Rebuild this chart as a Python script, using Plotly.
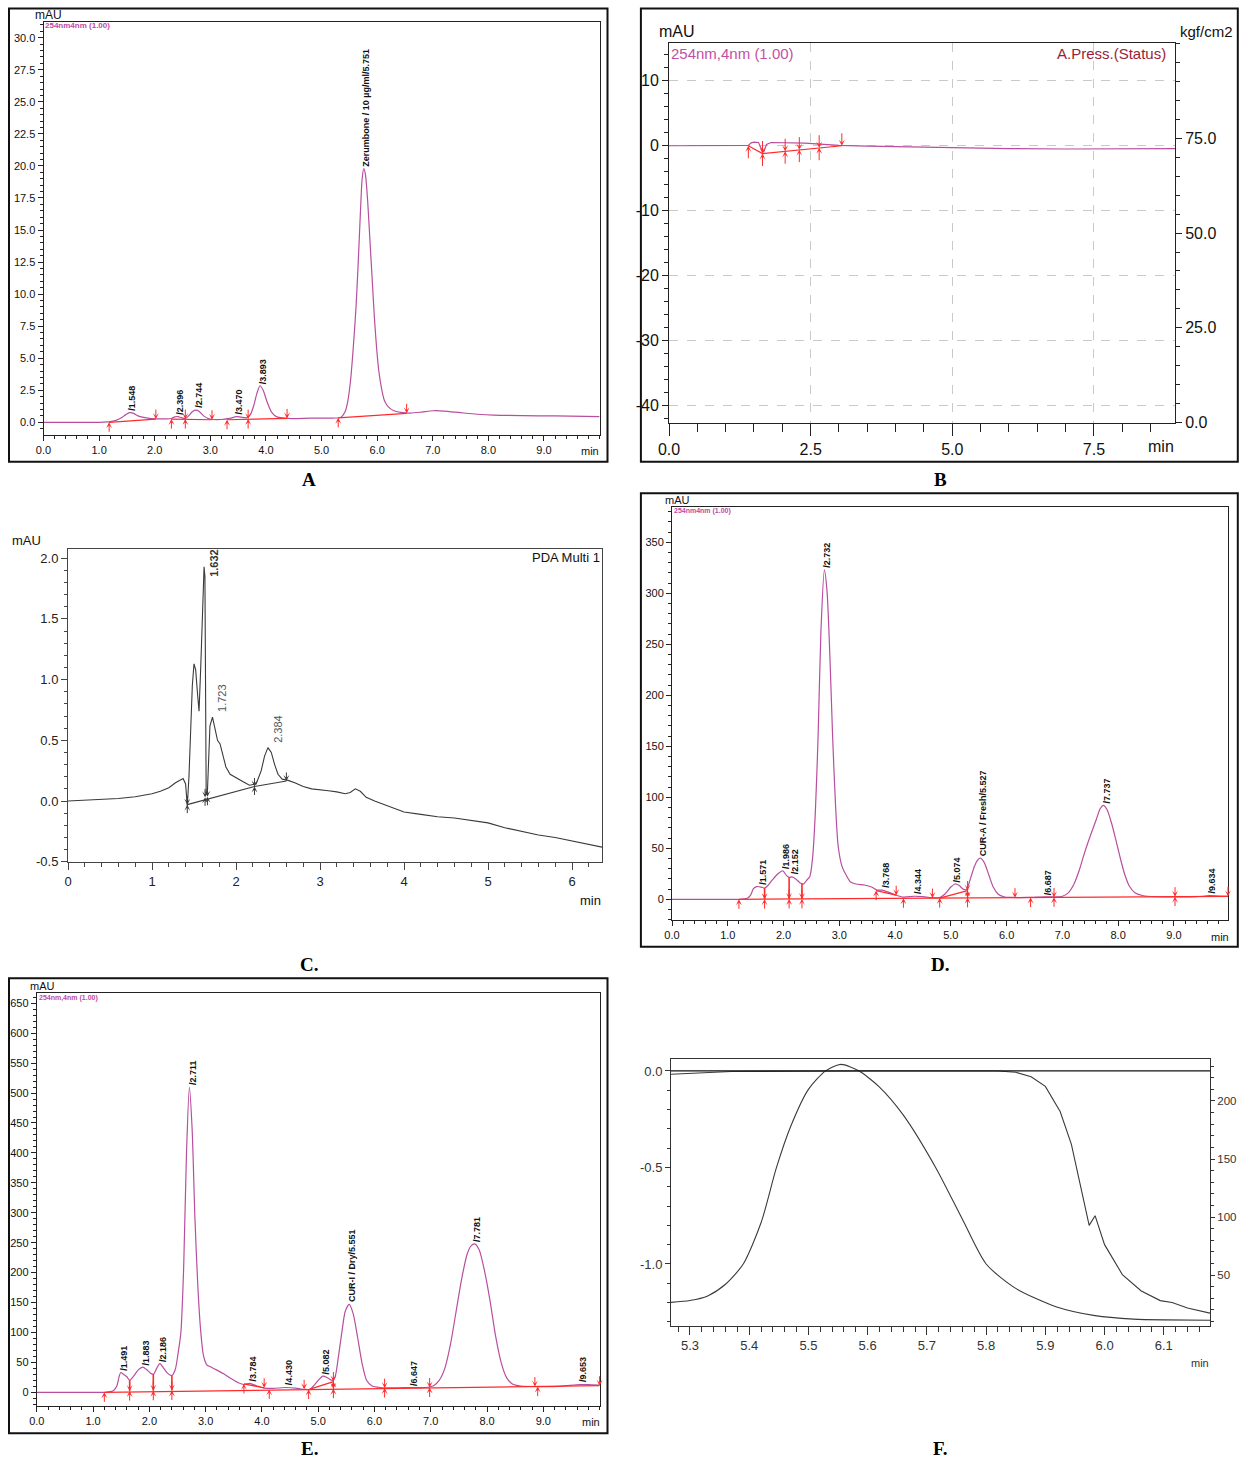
import plotly.graph_objects as go

W, H = 1239, 1459
SANS = "'Liberation Sans', Arial, sans-serif"
NARROW = "'Liberation Sans Narrow', 'Arial Narrow', 'Liberation Sans', Arial, sans-serif"
SERIF = "'Liberation Serif', 'Times New Roman', serif"
MAG = '#B84E9E'
RED = '#FF2A2A'
INK = '#222222'
GRAYLINE = '#3a3a3a'

# ---------------- Panel A : Zerumbone standard ----------------
A_time = [0.0, 0.6, 1.0, 1.2, 1.3, 1.4, 1.48, 1.55, 1.62, 1.7, 1.8, 1.9, 2.0, 2.2, 2.3, 2.36, 2.42, 2.48,
          2.55, 2.62, 2.68, 2.745, 2.8, 2.88, 2.96, 3.05, 3.2, 3.35, 3.47, 3.55, 3.65, 3.72, 3.78, 3.84,
          3.893, 3.95, 4.02, 4.1, 4.2, 4.4, 4.8, 5.2, 5.35, 5.42, 5.47, 5.52, 5.57, 5.62, 5.66, 5.70, 5.73,
          5.76, 5.79, 5.83, 5.87, 5.91, 5.95, 5.99, 6.03, 6.08, 6.13, 6.2, 6.3, 6.45, 6.6, 6.8, 7.0, 7.2,
          7.5, 7.8, 8.1, 8.6, 9.2, 10.0]
A_mau = [0.0, 0.0, 0.0, 0.05, 0.15, 0.35, 0.6, 0.75, 0.7, 0.5, 0.38, 0.3, 0.27, 0.27, 0.3, 0.42, 0.45, 0.36,
         0.3, 0.55, 0.85, 0.95, 0.85, 0.5, 0.3, 0.22, 0.22, 0.3, 0.45, 0.4, 0.35, 0.6, 1.3, 2.3,
         2.85, 2.5, 1.6, 0.8, 0.42, 0.3, 0.32, 0.33, 0.4, 0.8, 1.6, 3.2, 5.8, 9.0, 12.5, 16.5, 19.0,
         19.8, 19.3, 17.2, 14.2, 11.2, 8.2, 5.8, 4.0, 2.6, 1.7, 1.2, 0.9, 0.75, 0.72, 0.8, 0.9, 0.88,
         0.75, 0.63, 0.56, 0.52, 0.5, 0.45]
A_base_time = [1.18, 2.02, None, 2.30, 2.55, 3.03, None, 3.30, 3.68, 4.38, None, 5.30, 6.53]
A_base_mau = [0.0, 0.25, None, 0.25, 0.25, 0.20, None, 0.20, 0.25, 0.30, None, 0.35, 0.70]
A_up_time = [1.18, 2.30, 3.30, 5.30]
A_up_mau = [0.0, 0.25, 0.20, 0.35]
A_down_time = [2.02, 3.03, 4.38, 6.53]
A_down_mau = [0.25, 0.20, 0.30, 0.70]
A_cross_time = [2.55, 3.68]
A_cross_mau = [0.25, 0.25]
A_peak_time = [1.548, 2.396, 2.744, 3.470, 3.893, 5.751]
A_peak_mau = [0.75, 0.45, 0.95, 0.45, 2.85, 19.8]
A_peak_text = ['/1.548', '/2.396', '/2.744', '/3.470', '/3.893', 'Zerumbone / 10 µg/ml/5.751']
A_xtick = [0, 1, 2, 3, 4, 5, 6, 7, 8, 9]
A_ytick = [0.0, 2.5, 5.0, 7.5, 10.0, 12.5, 15.0, 17.5, 20.0, 22.5, 25.0, 27.5, 30.0]

# ---------------- Panel B : blank ----------------
B_time = [0.0, 0.5, 1.0, 1.4, 1.45, 1.5, 1.58, 1.62, 1.67, 1.72, 1.8, 1.9, 2.0, 2.2, 2.4, 2.6, 2.8,
          3.0, 3.5, 4.0, 5.0, 6.0, 7.0, 8.0, 8.93]
B_mau = [0.0, 0.0, 0.02, 0.05, 0.45, 0.55, 0.5, -0.3, -1.0, 0.2, 0.5, 0.5, 0.45, 0.45, 0.4, 0.3, 0.2,
         0.05, -0.05, -0.15, -0.35, -0.45, -0.5, -0.5, -0.45]
B_base_time = [1.4, 1.65, 3.05]
B_base_mau = [0.0, -1.2, 0.0]
B_up_time = [1.4]
B_up_mau = [0.0]
B_down_time = [3.05]
B_down_mau = [0.0]
B_cross_time = [1.65, 2.05, 2.3, 2.65]
B_cross_mau = [-1.2, -0.85, -0.6, -0.3]
B_xtick = [0.0, 2.5, 5.0, 7.5]
B_ytick = [-40, -30, -20, -10, 0, 10]
B_rtick = [0.0, 25.0, 50.0, 75.0]

# ---------------- Panel C : PDA Multi 1 ----------------
C_time = [0, 0.2, 0.4, 0.6, 0.8, 1.0, 1.1, 1.2, 1.28, 1.33, 1.37, 1.40, 1.42, 1.44, 1.46, 1.48, 1.50,
          1.52, 1.54, 1.56, 1.58, 1.60, 1.62, 1.63, 1.645, 1.66, 1.675, 1.69, 1.72, 1.75, 1.78, 1.81,
          1.84, 1.88, 1.93, 2.0, 2.08, 2.16, 2.24, 2.3, 2.34, 2.38, 2.42, 2.46, 2.5, 2.55, 2.62, 2.7,
          2.8, 2.9, 3.0, 3.1, 3.2, 3.3, 3.36, 3.42, 3.48, 3.55, 3.65, 3.8, 4.0, 4.2, 4.4, 4.6, 4.8, 5.0,
          5.2, 5.4, 5.6, 5.8, 6.0, 6.2, 6.36]
C_au = [0.0, 0.005, 0.01, 0.02, 0.035, 0.06, 0.08, 0.11, 0.15, 0.17, 0.185, 0.14, -0.04, 0.2, 0.6, 0.95,
        1.13, 1.08, 0.9, 0.74, 1.1, 1.6, 1.93, 1.85, 0.05, 0.08, 0.45, 0.62, 0.69, 0.58, 0.5, 0.47,
        0.38, 0.28, 0.22, 0.19, 0.16, 0.13, 0.14, 0.25, 0.37, 0.44, 0.4, 0.3, 0.22, 0.18, 0.17, 0.15,
        0.12, 0.1, 0.095, 0.085, 0.075, 0.06, 0.07, 0.1, 0.08, 0.03, 0.0, -0.04, -0.09, -0.11, -0.13,
        -0.14, -0.16, -0.18, -0.22, -0.25, -0.28, -0.3, -0.33, -0.36, -0.38]
C_base_time = [1.42, 2.22, 2.6]
C_base_au = [-0.03, 0.12, 0.165]
C_cross_time = [1.42, 1.632, 1.66, 2.22]
C_cross_au = [-0.03, 0.03, 0.035, 0.12]
C_down_time = [2.6]
C_down_au = [0.165]
C_peak_time = [1.632, 1.723, 2.384]
C_peak_au = [1.93, 0.69, 0.44]
C_peak_text = ['1.632', '1.723', '2.384']
C_xtick = [0, 1, 2, 3, 4, 5, 6]
C_ytick = [-0.5, 0.0, 0.5, 1.0, 1.5, 2.0]

# ---------------- Panel D : fresh extract ----------------
D_time = [0.0, 0.8, 1.2, 1.35, 1.41, 1.46, 1.52, 1.6, 1.66, 1.72, 1.8, 1.9, 1.986, 2.05, 2.1, 2.152, 2.22,
          2.3, 2.36, 2.42, 2.47, 2.52, 2.57, 2.62, 2.67, 2.732, 2.78, 2.83, 2.88, 2.93, 2.98, 3.05, 3.12,
          3.2, 3.3, 3.45, 3.58, 3.68, 3.768, 3.9, 4.02, 4.15, 4.344, 4.5, 4.65, 4.8, 4.9, 5.0, 5.074,
          5.15, 5.22, 5.28, 5.35, 5.42, 5.48, 5.527, 5.6, 5.68, 5.76, 5.85, 5.95, 6.1, 6.4, 6.687, 6.9,
          7.0, 7.1, 7.2, 7.3, 7.4, 7.5, 7.6, 7.68, 7.737, 7.8, 7.88, 7.96, 8.04, 8.12, 8.2, 8.3, 8.45,
          8.7, 9.0, 9.4, 9.634, 9.8, 9.97]
D_mau = [0.0, 0.0, 0.0, 1.0, 4.0, 10.5, 12.5, 12.0, 11.0, 13.5, 19.0, 25.0, 28.0, 23.5, 21.5, 22.0, 20.0,
         16.0, 15.0, 19.0, 22.0, 40.0, 85.0, 160.0, 262.0, 323.0, 302.0, 240.0, 160.0, 95.0, 52.0, 32.0,
         24.0, 17.0, 15.0, 14.0, 12.0, 9.0, 9.0, 6.5, 4.0, 2.2, 3.0, 2.6, 1.6, 1.8, 5.5, 12.0, 15.0,
         13.5, 10.0, 9.5, 20.0, 32.0, 38.5, 40.5, 36.0, 24.0, 12.0, 5.0, 2.5, 1.8, 1.8, 2.5, 2.3,
         3.0, 6.0, 14.0, 28.0, 46.0, 62.0, 77.0, 89.0, 92.0, 88.0, 75.0, 58.0, 40.0, 24.0, 13.0, 6.5, 3.5,
         2.5, 2.3, 2.5, 3.5, 3.2, 3.0]
D_base_time = [1.2, 9.97, None, 3.66, 4.02, None, 4.8, 5.3]
D_base_mau = [0.0, 2.9, None, 8.5, 4.0, None, 1.2, 8.5]
D_up_time = [1.2, 3.66, 4.15, 4.8, 6.43]
D_up_mau = [0.0, 8.5, 1.0, 1.2, 1.7]
D_down_time = [4.02, 4.67, 6.15, 9.97]
D_down_mau = [4.0, 1.2, 1.6, 2.9]
D_cross_time = [1.66, 2.1, 2.33, 5.3, 5.3, 6.85, 9.02]
D_cross_mau = [0.15, 0.3, 0.37, 8.5, 1.4, 1.9, 2.6]
D_drop_time = [1.66, 2.1, 2.33]
D_drop_low = [0.15, 0.3, 0.37]
D_drop_high = [11.0, 21.5, 15.5]
D_peak_time = [1.571, 1.986, 2.152, 2.732, 3.768, 4.344, 5.074, 5.527, 6.687, 7.737, 9.634]
D_peak_mau = [12.5, 28.0, 22.0, 323.0, 9.0, 3.0, 15.0, 40.5, 2.5, 92.0, 3.5]
D_peak_text = ['/1.571', '/1.986', '/2.152', '/2.732', '/3.768', '/4.344', '/5.074',
               'CUR-A / Fresh/5.527', '/6.687', '/7.737', '/9.634']
D_xtick = [0, 1, 2, 3, 4, 5, 6, 7, 8, 9]
D_ytick = [0, 50, 100, 150, 200, 250, 300, 350]

# ---------------- Panel E : dried extract ----------------
E_time = [0.0, 0.8, 1.2, 1.35, 1.42, 1.46, 1.491, 1.54, 1.6, 1.65, 1.72, 1.8, 1.883, 1.95, 2.02, 2.07, 2.13,
          2.186, 2.25, 2.32, 2.4, 2.46, 2.51, 2.56, 2.61, 2.66, 2.711, 2.76, 2.81, 2.86, 2.91, 2.96, 3.02,
          3.1, 3.2, 3.32, 3.45, 3.58, 3.68, 3.784, 3.9, 4.04, 4.2, 4.43, 4.6, 4.75, 4.85, 4.93, 5.0, 5.082,
          5.17, 5.25, 5.3, 5.36, 5.42, 5.48, 5.551, 5.62, 5.7, 5.78, 5.86, 5.95, 6.1, 6.4, 6.647, 6.9,
          7.05, 7.15, 7.25, 7.35, 7.45, 7.55, 7.65, 7.72, 7.781, 7.86, 7.95, 8.05, 8.15, 8.25, 8.35, 8.45,
          8.6, 8.9, 9.3, 9.653, 9.85, 10.0]
E_mau = [0.0, 0.0, 0.0, 2.0, 10.0, 25.0, 33.0, 30.0, 26.0, 20.0, 27.0, 37.0, 42.0, 38.0, 32.0, 30.0, 40.0,
         48.0, 41.0, 32.0, 28.0, 38.0, 65.0, 100.0, 210.0, 400.0, 510.0, 440.0, 290.0, 180.0, 105.0, 62.0,
         46.0, 42.0, 37.0, 31.0, 23.0, 16.0, 13.0, 15.0, 11.0, 7.0, 6.5, 8.0, 7.0, 5.0, 4.5, 12.0, 20.0,
         27.0, 24.0, 20.0, 26.0, 60.0, 100.0, 135.0, 147.0, 132.0, 92.0, 48.0, 20.0, 11.0, 8.0, 7.5, 8.0,
         8.0, 11.0, 20.0, 40.0, 80.0, 135.0, 190.0, 232.0, 245.0, 248.0, 238.0, 205.0, 155.0, 95.0, 50.0,
         24.0, 14.0, 10.5, 9.5, 10.0, 13.0, 12.5, 12.0]
E_base_time = [1.2, 10.0, None, 3.68, 4.04, None, 4.83, 5.27]
E_base_mau = [0.0, 11.0, None, 14.0, 7.5, None, 4.5, 18.0]
E_up_time = [1.2, 3.68, 4.13, 4.83, 8.9]
E_up_mau = [0.0, 14.0, 4.8, 4.5, 9.5]
E_down_time = [4.04, 4.75, 8.85, 10.0]
E_down_mau = [7.5, 5.0, 9.5, 11.0]
E_cross_time = [1.65, 2.07, 2.4, 5.27, 5.27, 6.18, 6.98]
E_cross_mau = [2.0, 2.5, 3.0, 18.0, 6.0, 7.0, 8.0]
E_drop_time = [1.65, 2.07, 2.4]
E_drop_low = [2.0, 2.5, 3.0]
E_drop_high = [20.0, 30.0, 28.0]
E_peak_time = [1.491, 1.883, 2.186, 2.711, 3.784, 4.430, 5.082, 5.551, 6.647, 7.781, 9.653]
E_peak_mau = [33.0, 42.0, 48.0, 510.0, 15.0, 8.0, 27.0, 147.0, 8.0, 248.0, 13.0]
E_peak_text = ['/1.491', '/1.883', '/2.186', '/2.711', '/3.784', '/4.430', '/5.082',
               'CUR-I / Dry/5.551', '/6.647', '/7.781', '/9.653']
E_xtick = [0, 1, 2, 3, 4, 5, 6, 7, 8, 9]
E_ytick = [0, 50, 100, 150, 200, 250, 300, 350, 400, 450, 500, 550, 600, 650]

# ---------------- Panel F : peak purity ----------------
F_time = [5.268, 5.30, 5.33, 5.36, 5.39, 5.42, 5.446, 5.47, 5.50, 5.529, 5.555, 5.585, 5.62, 5.66, 5.715,
          5.76, 5.80, 5.85, 5.918, 5.984, 6.049, 6.10, 6.178]
F_mau = [26.4, 28.0, 32.0, 42.0, 59.5, 95.0, 142.5, 178.0, 210.0, 226.0, 231.6, 226.0, 212.0, 188.0, 142.5,
         98.0, 59.5, 38.5, 22.7, 15.0, 12.0, 11.3, 11.0]
P_time = [5.268, 5.37, 5.6, 5.82, 5.85, 5.876, 5.9, 5.925, 5.944, 5.957, 5.974, 5.984, 6.0, 6.03, 6.062,
          6.094, 6.114, 6.14, 6.178]
P_val = [-0.017, -0.003, 0.0, 0.0, -0.007, -0.03, -0.08, -0.21, -0.38, -0.555, -0.8, -0.75, -0.9, -1.055,
         -1.14, -1.19, -1.2, -1.228, -1.255]
F_threshold = [0.0]
F_xtick = [5.3, 5.4, 5.5, 5.6, 5.7, 5.8, 5.9, 6.0, 6.1]
F_ytick = [-1.0, -0.5, 0.0]
F_rtick = [50, 100, 150, 200]

for a, b in [(A_time, A_mau), (B_time, B_mau), (C_time, C_au), (D_time, D_mau), (E_time, E_mau),
             (F_time, F_mau), (P_time, P_val)]:
    assert len(a) == len(b), (len(a), len(b))

fig = go.Figure()


def add_line(x, y, xa, ya, color, width=1.2, shape='spline'):
    ln = dict(color=color, width=width, shape=shape)
    if shape == 'spline':
        ln['smoothing'] = 0.7
    fig.add_trace(go.Scatter(x=x, y=y, xaxis=xa, yaxis=ya, mode='lines', line=ln,
                             hoverinfo='skip', showlegend=False))


def add_drops(ts, lows, highs, xa, ya, color):
    xs, ys = [], []
    for t, lo, hi in zip(ts, lows, highs):
        xs += [t, t, None]
        ys += [lo, hi, None]
    add_line(xs, ys, xa, ya, color, 1.6, 'linear')


def add_arrows(xref, yref, xs, ys, direction, color, length):
    for x, y in zip(xs, ys):
        fig.add_annotation(x=x, y=y, xref=xref, yref=yref, ax=0,
                           ay=(length if direction == 'up' else -length),
                           showarrow=True, arrowhead=3, arrowsize=1.0, arrowwidth=1,
                           arrowcolor=color, text='')


def add_events(xref, yref, ups, downs, crosses, color, length):
    add_arrows(xref, yref, ups[0], ups[1], 'up', color, length)
    add_arrows(xref, yref, downs[0], downs[1], 'down', color, length)
    add_arrows(xref, yref, crosses[0], crosses[1], 'up', color, length)
    add_arrows(xref, yref, crosses[0], crosses[1], 'down', color, length)


def add_labels(xref, yref, xs, ys, texts, size, color, bold=True, xshift=3, yshift=1, family=SANS):
    for x, y, t in zip(xs, ys, texts):
        fig.add_annotation(x=x, y=y, xref=xref, yref=yref, text=('<b>%s</b>' % t) if bold else t,
                           textangle=-90, showarrow=False, xanchor='center', yanchor='bottom',
                           xshift=xshift, yshift=yshift, borderpad=0,
                           font=dict(family=family, size=size, color=color))


def ptext(x, y, text, size, color='#111111', family=NARROW, xanchor='center', yanchor='middle'):
    fig.add_annotation(x=x / W, y=1 - y / H, xref='paper', yref='paper', text=text,
                       showarrow=False, xanchor=xanchor, yanchor=yanchor, borderpad=0,
                       font=dict(family=family, size=size, color=color))


def frame(x0, y0, x1, y1):
    fig.add_shape(type='rect', xref='paper', yref='paper', x0=x0 / W, x1=x1 / W,
                  y0=1 - y0 / H, y1=1 - y1 / H, line=dict(color='#111111', width=2))


def dx(a, b):
    return [a / W, b / W]


def dy(top, bottom):
    return [1 - bottom / H, 1 - top / H]


def axis(domain, rng, anchor, tickvals, ticktext, minor_dtick, minor_tick0, font, ticklen=5, minorlen=3,
         color=INK, **kw):
    d = dict(domain=domain, range=rng, anchor=anchor, tickmode='array', tickvals=tickvals, ticktext=ticktext,
             showline=True, linecolor=color, linewidth=1, mirror=True, zeroline=False, showgrid=False,
             automargin=False, ticks='outside', ticklen=ticklen, tickcolor=color, tickwidth=1, tickfont=font,
             minor=dict(tickmode='linear', tick0=minor_tick0, dtick=minor_dtick, ticks='outside',
                        ticklen=minorlen, tickcolor=color, tickwidth=1, showgrid=False))
    d.update(kw)
    return d


f11 = dict(family=NARROW, size=11, color='#111111')
fB = dict(family=NARROW, size=16, color='#111111')
fC = dict(family=NARROW, size=13, color='#222222')
fF = dict(family=NARROW, size=13, color='#333333')
fFr = dict(family=NARROW, size=11.5, color='#333333')

# ---- Panel A ----
add_line(A_time, A_mau, 'x', 'y', MAG, 1.2)
add_line(A_base_time, A_base_mau, 'x', 'y', RED, 1.2, 'linear')
add_events('x', 'y', (A_up_time, A_up_mau), (A_down_time, A_down_mau), (A_cross_time, A_cross_mau), RED, 11)
add_labels('x', 'y', A_peak_time, A_peak_mau, A_peak_text, 9, '#111111')

# ---- Panel B ----
add_line(B_time, B_mau, 'x2', 'y2', MAG, 1.2, 'linear')
add_line(B_base_time, B_base_mau, 'x2', 'y2', RED, 1.2, 'linear')
add_events('x2', 'y2', (B_up_time, B_up_mau), (B_down_time, B_down_mau), (B_cross_time, B_cross_mau), RED, 14)
# pressure channel (kgf/cm2) has no visible trace in the window, but its axis is shown
fig.add_trace(go.Scatter(x=[], y=[], xaxis='x2', yaxis='y3', mode='lines', hoverinfo='skip',
                         showlegend=False, line=dict(color='#9A1E36', width=1)))

# ---- Panel C ----
add_line(C_time, C_au, 'x3', 'y4', GRAYLINE, 1.1, 'linear')
add_line(C_base_time, C_base_au, 'x3', 'y4', GRAYLINE, 1.1, 'linear')
add_events('x3', 'y4', ([], []), (C_down_time, C_down_au), (C_cross_time, C_cross_au), GRAYLINE, 10)
fig.add_annotation(x=C_peak_time[0], y=C_peak_au[0], xref='x3', yref='y4', text='<b>%s</b>' % C_peak_text[0],
                   textangle=-90, showarrow=False, xanchor='center', yanchor='bottom', xshift=9, yshift=-12,
                   font=dict(family=SANS, size=11, color='#333333'))
add_labels('x3', 'y4', C_peak_time[1:], C_peak_au[1:], C_peak_text[1:], 11, '#555555', bold=False,
           xshift=9, yshift=4)

# ---- Panel D ----
add_line(D_time, D_mau, 'x4', 'y5', MAG, 1.2)
add_line(D_base_time, D_base_mau, 'x4', 'y5', RED, 1.3, 'linear')
add_drops(D_drop_time, D_drop_low, D_drop_high, 'x4', 'y5', RED)
add_events('x4', 'y5', (D_up_time, D_up_mau), (D_down_time, D_down_mau), (D_cross_time, D_cross_mau), RED, 11)
add_labels('x4', 'y5', D_peak_time, D_peak_mau, D_peak_text, 9, '#111111')

# ---- Panel E ----
add_line(E_time, E_mau, 'x5', 'y6', MAG, 1.2)
add_line(E_base_time, E_base_mau, 'x5', 'y6', RED, 1.3, 'linear')
add_drops(E_drop_time, E_drop_low, E_drop_high, 'x5', 'y6', RED)
add_events('x5', 'y6', (E_up_time, E_up_mau), (E_down_time, E_down_mau), (E_cross_time, E_cross_mau), RED, 11)
add_labels('x5', 'y6', E_peak_time, E_peak_mau, E_peak_text, 9, '#111111')

# ---- Panel F ----
add_line(F_time, F_mau, 'x6', 'y8', GRAYLINE, 1.1)
add_line(P_time, P_val, 'x6', 'y7', GRAYLINE, 1.1, 'linear')
for v in F_threshold:
    fig.add_shape(type='line', xref='x6 domain', yref='y7', x0=0, x1=1, y0=v, y1=v,
                  line=dict(color='#111111', width=1.3))

# ---------------- axes ----------------
fmt1 = lambda vals: ['%.1f' % v for v in vals]
fmt0 = lambda vals: ['%d' % v for v in vals]

layout = dict(
    xaxis=axis(dx(43.5, 599.6), [0, 10], 'y', A_xtick, fmt1(A_xtick), 0.2, 0, f11),
    yaxis=axis(dy(21.7, 435), [-0.99, 31.25], 'x', A_ytick, fmt1(A_ytick), 0.5, 0, f11),
    xaxis2=axis(dx(669, 1175), [0, 8.93], 'y2', B_xtick, fmt1(B_xtick), 0.5, 0, fB, ticklen=12, minorlen=8,
                showgrid=True, gridcolor='#c9c9c9', griddash='dash', gridwidth=1),
    yaxis2=axis(dy(42.7, 423), [-42.7, 15.87], 'x2', B_ytick, fmt0(B_ytick), 2, 0, fB, ticklen=6, minorlen=4,
                showgrid=True, gridcolor='#c9c9c9', griddash='dash', gridwidth=1),
    yaxis3=dict(overlaying='y2', side='right', anchor='x2', range=[-0.1, 100.2], tickmode='array',
                tickvals=B_rtick, ticktext=fmt1(B_rtick), showline=True, linecolor=INK, linewidth=1,
                zeroline=False, showgrid=False, automargin=False, ticks='outside', ticklen=6, tickcolor=INK,
                tickfont=fB,
                minor=dict(tickmode='linear', tick0=0, dtick=5, ticks='outside', ticklen=4, tickcolor=INK)),
    xaxis3=axis(dx(68, 602), [0, 6.357], 'y4', C_xtick, fmt0(C_xtick), 0.2, 0, fC, ticklen=7, minorlen=4,
                color='#444444'),
    yaxis4=axis(dy(549, 862.3), [-0.505, 2.076], 'x3', C_ytick, fmt1(C_ytick), 0.1, 0, fC, ticklen=6,
                minorlen=3, color='#444444'),
    xaxis4=axis(dx(672, 1228), [0, 9.97], 'y5', D_xtick, fmt1(D_xtick), 0.2, 0, f11),
    yaxis5=axis(dy(506.7, 920), [-20.3, 384.9], 'x4', D_ytick, fmt0(D_ytick), 10, 0, f11),
    xaxis5=axis(dx(36.8, 599.6), [0, 10], 'y6', E_xtick, fmt1(E_xtick), 0.2, 0, f11),
    yaxis6=axis(dy(992.7, 1405.7), [-22.4, 667.7], 'x5', E_ytick, fmt0(E_ytick), 10, 0, f11),
    xaxis6=axis(dx(671, 1210), [5.268, 6.178], 'y7', F_xtick, fmt1(F_xtick), 0.02, 5.3, fF, ticklen=8,
                minorlen=5, color='#333333'),
    yaxis7=axis(dy(1059, 1325.7), [-1.32, 0.062], 'x6', F_ytick, fmt1(F_ytick), 0.1, 0, fF, ticklen=5,
                minorlen=3, color='#333333'),
    yaxis8=dict(overlaying='y7', side='right', anchor='x6', range=[6.3, 236.2], tickmode='array',
                tickvals=F_rtick, ticktext=fmt0(F_rtick), showline=True, linecolor='#333333', linewidth=1,
                zeroline=False, showgrid=False, automargin=False, ticks='outside', ticklen=4,
                tickcolor='#333333', tickfont=fFr,
                minor=dict(tickmode='linear', tick0=0, dtick=10, ticks='outside', ticklen=3,
                           tickcolor='#333333')),
)
fig.update_layout(**layout)

# ---------------- panel frames and text ----------------
frame(9, 8.5, 607.5, 461.7)
frame(640.9, 8.5, 1237.8, 461.7)
frame(640.9, 493.3, 1237.8, 946.7)
frame(9, 978.3, 607.5, 1433.3)

# Panel A texts
ptext(48, 15, 'mAU', 12)
ptext(44, 26, '<b>254nm4nm (1.00)</b>', 8, '#C04AA2', xanchor='left')
ptext(600, 451, 'min', 11, xanchor='right')
# Panel B texts
ptext(677, 32, 'mAU', 16)
ptext(1206, 32, 'kgf/cm2', 15)
ptext(670, 53, '254nm,4nm (1.00)', 15, '#C24FA4', xanchor='left')
ptext(1167, 53, 'A.Press.(Status)', 15, '#9A1E36', xanchor='right')
ptext(1175, 446, 'min', 16, xanchor='right')
# Panel C texts
ptext(26, 540, 'mAU', 13)
ptext(601, 558, 'PDA Multi 1', 13, xanchor='right')
ptext(602, 900, 'min', 13, xanchor='right')
# Panel D texts
ptext(677, 500, 'mAU', 11)
ptext(673, 511, '<b>254nm4nm (1.00)</b>', 7, '#C04AA2', xanchor='left')
ptext(1230, 937, 'min', 11, xanchor='right')
# Panel E texts
ptext(42, 986, 'mAU', 11)
ptext(38, 998, '<b>254nm,4nm (1.00)</b>', 7, '#C04AA2', xanchor='left')
ptext(601, 1422, 'min', 11, xanchor='right')
# Panel F texts
ptext(1210, 1363, 'min', 11, '#333333', xanchor='right')

# panel letters
for x, y, t in [(309, 479, 'A'), (940, 479, 'B'), (309, 964, 'C.'), (940, 964, 'D.'), (309, 1448, 'E.'),
                (940, 1448, 'F.')]:
    ptext(x, y, '<b>%s</b>' % t, 19, '#000000', family=SERIF)

fig.update_layout(width=W, height=H, margin=dict(l=0, r=0, t=0, b=0, pad=0), paper_bgcolor='white',
                  plot_bgcolor='white', showlegend=False, font=dict(family=NARROW))

# the page's default body margin would push the figure out of the window: remove it
fig.write_html("out.html", config={'displayModeBar': False},
               post_script="document.documentElement.style.overflow='hidden';"
                           "document.body.style.margin='0';document.body.style.overflow='hidden';")
